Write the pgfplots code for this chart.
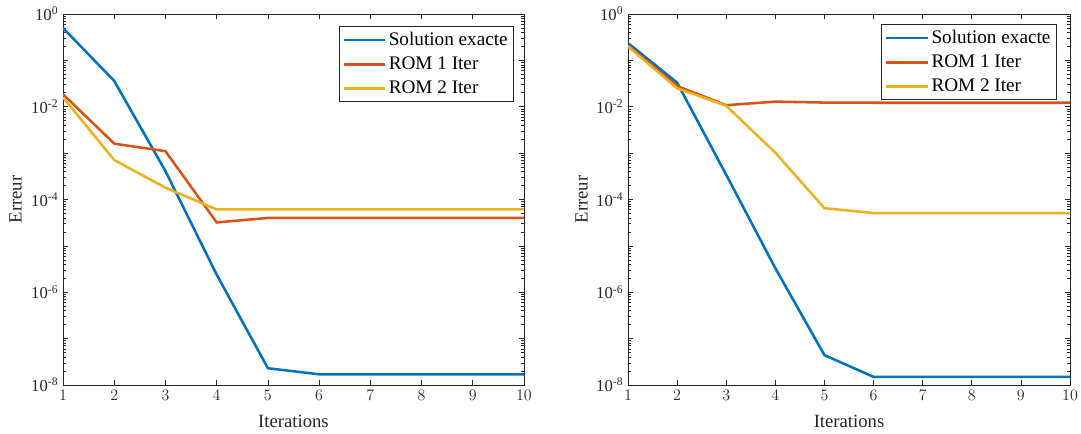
\documentclass[border=0pt]{standalone}
\usepackage{fontspec}
\setmainfont{Liberation Serif}
\usepackage{pgfplots}
\pgfplotsset{compat=1.18}
\definecolor{c1}{rgb}{0,0.447,0.741}
\definecolor{c2}{rgb}{0.85,0.325,0.098}
\definecolor{c3}{rgb}{0.929,0.694,0.125}
\definecolor{axc}{rgb}{0.15,0.15,0.15}
\pgfplotsset{
  mystyle/.style={
    scale only axis, height=278.25pt, anchor=south west,
    xmin=1, xmax=10, ymin=1e-8, ymax=1,
    xtick={1,2,3,4,5,6,7,8,9,10},
    ytick={1e-8,1e-7,1e-6,1e-5,1e-4,1e-3,1e-2,1e-1,1},
    yticklabels={10\textsuperscript{-8},,10\textsuperscript{-6},,10\textsuperscript{-4},,10\textsuperscript{-2},,10\textsuperscript{0}},
    tick align=inside,
    major tick length=4pt, minor tick length=2pt,
    axis line style={axc, line width=0.5pt},
    every tick/.style={axc, line width=0.5pt},
    ticklabel style={font=\fontsize{12.5}{15}\selectfont, text=axc},
    xlabel={Iterations}, ylabel={Erreur},
    label style={font=\fontsize{14}{17}\selectfont, text=axc},
    xlabel style={at={(axis description cs:0.5,-0.097)}, anchor=center},
    legend cell align=left,
    legend style={at={(1,1)}, anchor=north east, draw=axc, fill=white,
      font=\fontsize{14.4}{17}\selectfont, row sep=3pt, inner sep=2.5pt},
    legend image code/.code={\draw[##1] (0pt,0pt) -- (31pt,0pt);},
    every axis plot/.append style={line width=1.9pt},
  }
}
\begin{document}
\begin{tikzpicture}
\useasboundingbox (-47.25pt,-36.75pt) rectangle (763.5pt,288.75pt);
\begin{semilogyaxis}[mystyle, at={(0pt,0pt)}, width=345.75pt,
  ylabel style={at={(axis description cs:-0.103,0.5)}, anchor=center},
  legend style={xshift=-7.5pt, yshift=-9pt}]
\addplot[c1] coordinates {(1,0.5) (2,0.036) (3,4.1e-4) (4,2.4e-6) (5,2.3e-8) (6,1.7e-8) (7,1.7e-8) (8,1.7e-8) (9,1.7e-8) (10,1.7e-8)};
\addplot[c2] coordinates {(1,0.0186) (2,1.6e-3) (3,1.1e-3) (4,3.2e-5) (5,4.0e-5) (6,4.0e-5) (7,4.0e-5) (8,4.0e-5) (9,4.0e-5) (10,4.0e-5)};
\addplot[c3] coordinates {(1,0.016) (2,7.1e-4) (3,1.8e-4) (4,6.1e-5) (5,6.1e-5) (6,6.1e-5) (7,6.1e-5) (8,6.1e-5) (9,6.1e-5) (10,6.1e-5)};
\legend{Solution exacte, ROM 1 Iter, ROM 2 Iter}
\end{semilogyaxis}
\begin{semilogyaxis}[mystyle, at={(423.75pt,0pt)}, width=331.5pt,
  ylabel style={at={(axis description cs:-0.105,0.5)}, anchor=center},
  legend style={xshift=-10pt, yshift=-7.5pt}]
\addplot[c1] coordinates {(1,0.236) (2,0.033) (3,3.4e-4) (4,3.3e-6) (5,4.4e-8) (6,1.5e-8) (7,1.5e-8) (8,1.5e-8) (9,1.5e-8) (10,1.5e-8)};
\addplot[c2] coordinates {(1,0.21) (2,0.028) (3,0.0108) (4,0.0129) (5,0.0123) (6,0.0122) (7,0.0122) (8,0.0122) (9,0.0122) (10,0.0122)};
\addplot[c3] coordinates {(1,0.2) (2,0.025) (3,0.0105) (4,1.02e-3) (5,6.5e-5) (6,5.1e-5) (7,5.1e-5) (8,5.1e-5) (9,5.1e-5) (10,5.1e-5)};
\legend{Solution exacte, ROM 1 Iter, ROM 2 Iter}
\end{semilogyaxis}
\end{tikzpicture}
\end{document}
